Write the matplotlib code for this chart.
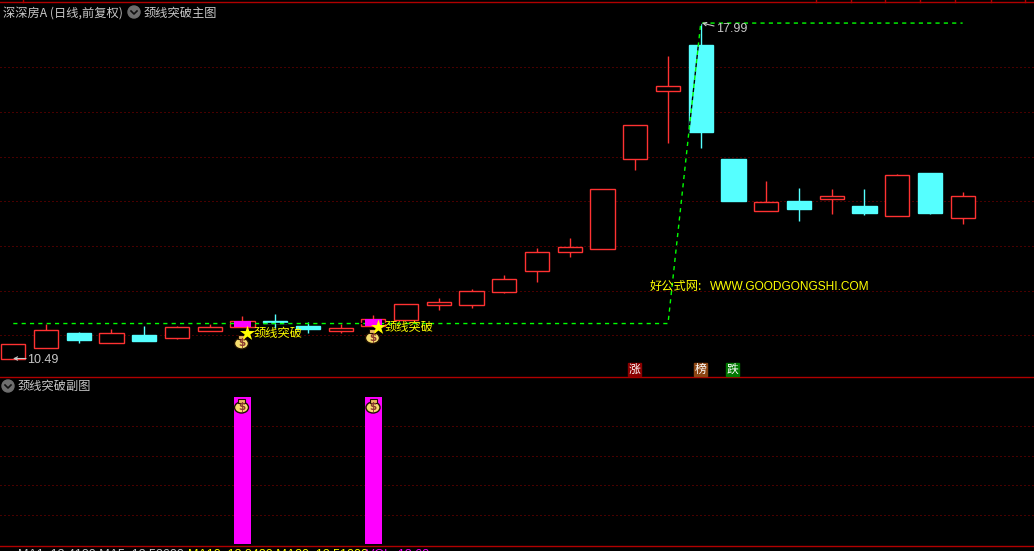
import matplotlib
matplotlib.use('Agg')
import matplotlib.pyplot as plt
from matplotlib.patches import Circle, Ellipse, Rectangle

plt.rcParams['font.family'] = ['Noto Sans CJK SC', 'DejaVu Sans']

# daily candles
opens = [10.49, 10.68, 10.93, 10.76, 10.90, 10.85, 10.97, 11.03, 11.15, 11.06, 10.96, 11.06, 11.17, 11.44, 11.44,
         11.68, 12.08, 12.46, 12.52, 14.45, 16.14, 17.37, 14.46, 13.31, 13.51, 13.55, 13.41, 13.20, 14.14, 13.16]
closes = [10.74, 10.98, 10.81, 10.93, 10.80, 11.03, 11.03, 11.14, 11.11, 11.00, 11.02, 11.18, 11.45, 11.49, 11.69,
          11.92, 12.45, 12.55, 13.77, 15.27, 16.25, 15.10, 13.52, 13.49, 13.34, 13.62, 13.26, 14.09, 13.26, 13.62]
highs = [10.74, 11.09, 10.95, 11.00, 11.06, 11.06, 11.09, 11.24, 11.27, 11.12, 11.09, 11.25, 11.45, 11.57, 11.73,
         12.00, 12.53, 12.74, 13.77, 15.27, 17.07, 17.99, 14.46, 13.95, 13.80, 13.78, 13.78, 14.12, 14.14, 13.71]
lows = [10.49, 10.68, 10.76, 10.76, 10.80, 10.83, 10.97, 11.03, 11.02, 10.94, 10.94, 11.06, 11.17, 11.34, 11.38,
        11.66, 11.87, 12.35, 12.52, 14.21, 14.84, 14.72, 13.52, 13.31, 13.09, 13.24, 13.22, 13.20, 13.24, 13.03]

# neckline, then the top line after the breakout
neck = [11.10] * 21 + [17.99] * 9

# breakout days
signal_days = [7, 11]
signal_vals = [1, 1]

price_grid = [10.89, 11.69, 12.57, 13.51, 14.50, 15.59, 16.76]
sub_grid = [0.2, 0.4, 0.6, 0.8]
top_ticks = [23, 816, 850.5, 885.3, 920.3, 955, 990.5, 1025]

RED = '#ff3232'
CYAN = '#55ffff'
MAGENTA = '#ff00ff'
GREEN = '#00ff00'
YELLOW = '#ffff00'
GRAY = '#c8c8c8'
LINE = '#b00000'
DOT = '#900000'
W, H = 1034, 551

fig = plt.figure(figsize=(W / 100, H / 100), dpi=100, facecolor='black')
ax = fig.add_axes([0, (H - 377) / H, 1, 375 / H], facecolor='black')
ax2 = fig.add_axes([0, 5 / H, 1, 169 / H], facecolor='black')
# overlay in pixels for the labels and icons
top = fig.add_axes([0, 0, 1, 1], facecolor='none')
top.set_xlim(0, W)
top.set_ylim(H, 0)
top.axis('off')

xlim = (-0.406, 31.18)

# main panel
ax.set_yscale('log')
for p in price_grid:
    ax.axhline(p, color=DOT, lw=0.72, ls=(0, (1, 3)), zorder=1)

for i in range(len(opens)):
    up = closes[i] >= opens[i]
    col = RED if up else CYAN
    ax.vlines(i, lows[i], highs[i], color=col, lw=1.0, zorder=2)
    ax.bar(i, abs(closes[i] - opens[i]), bottom=min(opens[i], closes[i]), width=0.74,
           color='black' if up else CYAN, edgecolor=col, linewidth=1.0, zorder=2.5)

ax.plot(range(len(neck)), neck, color=GREEN, lw=1.0, ls=(0, (3, 3)), gapcolor='black', zorder=3)

for d in signal_days:
    ax.bar(d, abs(closes[d] - opens[d]), bottom=opens[d], width=0.52, color=MAGENTA, zorder=4)

ax.set_xlim(xlim)
ax.set_ylim(10.186, 18.61)
ax.axis('off')

# sub panel
for v in sub_grid:
    ax2.axhline(v, color=DOT, lw=0.72, ls=(0, (1, 3)), zorder=1)
ax2.bar(signal_days, signal_vals, width=0.52, color=MAGENTA, zorder=2)
ax2.set_xlim(xlim)
ax2.set_ylim(-0.0136, 1.136)
ax2.axis('off')

# frame lines
for y in [2, 377, 546]:
    top.plot([0, W], [y, y], color=LINE, lw=1.0)
for x in top_ticks:
    top.plot([x, x], [0, 2], color=LINE, lw=1.0)


def circle_icon(x, y):
    top.add_patch(Circle((x, y), 6, color='#6e6e6e', zorder=5))
    top.plot([x - 3, x, x + 3], [y - 1, y + 2, y - 1], color='#101010', lw=1.2, zorder=6)


def money_bag(x, y):
    top.add_patch(Ellipse((x, y + 1.5), 14, 11, fc='#f5dc6e', ec='#201000', lw=1.0, zorder=5))
    top.add_patch(Rectangle((x - 3.5, y - 7.5), 7, 4, fc='#e8b860', ec='#201000', lw=0.8, zorder=5))
    top.text(x, y + 1.5, '$', color='#8a3a30', fontsize=7.5, fontweight='bold', ha='center', va='center',
             family='DejaVu Sans', zorder=6)


def label(x, y, s, color=GRAY, size=8.8, **kw):
    top.text(x, y, s, color=color, fontsize=size, ha='left', va='center', zorder=7, **kw)


# titles
label(3, 13, '深深房Α (日线,前复权)')
circle_icon(134, 12)
label(144, 13, '颈线突破主图')
circle_icon(8, 386)
label(18, 386.5, '颈线突破副图')

# breakout markers
for x, y, bag_y in [(247, 333, 342), (378, 327, 336.5)]:
    money_bag(x - 5.5, bag_y)
    top.scatter([x], [y], marker='*', s=130, color=YELLOW, linewidths=0, zorder=6)
    label(x + 6.5, y + 0.5, '颈线突破', color=YELLOW)
for x in [241.5, 373]:
    money_bag(x, 406)

# high and low labels
top.annotate('', xy=(702, 23), xytext=(714, 26), zorder=7,
             arrowprops=dict(arrowstyle='->', color=GRAY, lw=0.8, mutation_scale=6, shrinkA=0, shrinkB=0))
label(716, 29, '17.99', family='Liberation Sans', size=9)
top.annotate('', xy=(13, 358.5), xytext=(26, 358.5), zorder=7,
             arrowprops=dict(arrowstyle='->', color=GRAY, lw=0.8, mutation_scale=6, shrinkA=0, shrinkB=0))
label(27, 360, '10.49', family='Liberation Sans', size=9)

# watermark
label(650, 286.5, '好公式网:', color=YELLOW)
label(710, 286.5, 'WWW.GOODGONGSHI.COM', color=YELLOW, family='Liberation Sans', size=8.6)

# event tags
for x, s, c in [(628, '涨', '#8b0000'), (694, '榜', '#8b4513'), (726, '跌', '#007700')]:
    top.add_patch(Rectangle((x, 363), 13, 13, color=c, zorder=5))
    top.text(x + 6.5, 369.5, s, color='white', fontsize=8.5, ha='center', va='center', zorder=6)

# status line, only its top edge is inside the picture
top.text(18, 549.5, 'MA1: 13.4180 MA5: 13.52600', color=GRAY, fontsize=9, va='top', family='Liberation Sans')
top.text(188, 549.5, 'MA10: 13.8420 MA20: 13.51000', color=YELLOW, fontsize=9, va='top', family='Liberation Sans')
top.text(366, 549.5, 'VOL: 13.62', color=MAGENTA, fontsize=9, va='top', family='Liberation Sans')

fig.savefig('out.png', dpi=100, facecolor='black')
